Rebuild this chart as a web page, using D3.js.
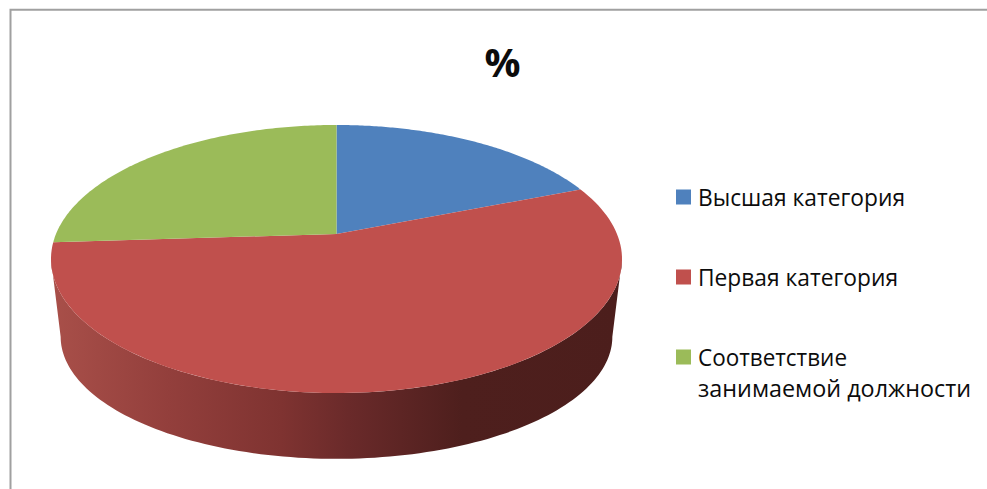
<!DOCTYPE html>
<html>
<head>
<meta charset="utf-8">
<script src="https://cdn.jsdelivr.net/npm/d3@7"></script>
<style>
  html, body { margin: 0; padding: 0; background: #fff; }
  svg { display: block; }
  text { font-family: "Open Sans", "Noto Sans", sans-serif; fill: #0c0c0c; }
</style>
</head>
<body>
<script>
const titleText = "%";
const categories = ["Высшая категория", "Первая категория", "Соответствие занимаемой должности"];
const values = [19, 55, 26];
const colors = ["#4f81bd", "#c0504d", "#9bbb59"];
const legendLines = [["Высшая категория"], ["Первая категория"], ["Соответствие", "занимаемой должности"]];
const legendWidths = [[207], [200], [149, 273]];

const width = 987, height = 489;

const svg = d3.select("body").append("svg")
    .attr("width", width)
    .attr("height", height)
    .attr("viewBox", [0, 0, width, height]);

// side wall gets darker to the right, banded like the original
const wallGrad = svg.append("defs").append("linearGradient")
    .attr("id", "wall")
    .attr("gradientUnits", "userSpaceOnUse")
    .attr("x1", 55).attr("x2", 620).attr("y1", 0).attr("y2", 0);
[[0, "#a84f49"], [0.2, "#933f3c"], [0.4, "#7f3331"], [0.52, "#6a2a2a"], [0.72, "#4e1f1d"], [1, "#4c1e1c"]]
  .forEach(([o, c]) => wallGrad.append("stop").attr("offset", o).attr("stop-color", c));

// chart frame, open at the bottom and right like the crop
svg.append("path")
    .attr("fill", "none")
    .attr("stroke", "#a0a0a0")
    .attr("stroke-width", 2)
    .attr("d", d3.line()([[10.5, height], [10.5, 9.8], [width, 9.8]]));

// perspective disc: unit circle (u right, v towards viewer) to screen
const cx = 336.5, persp = -0.1866;
const project = (disc) => ([u, v]) => {
  const w = 1 + persp * v;
  return [cx + disc.rx * u / w, (disc.a * v + disc.b) / w];
};
const topDisc = project({rx: 280.5, a: 85.7, b: 234});
const baseDisc = project({rx: 271, a: 59.2, b: 314});
const rim = (t) => [Math.sin(t), -Math.cos(t)];

const pie = d3.pie().sort(null)(values);
const line = d3.line();

// sample an arc of the rim between two angles
const arcPoints = (t0, t1, disc) => d3.range(0, 121)
    .map(i => disc(rim(t0 + (t1 - t0) * i / 120)));

// wall runs between the two widest points of the disc
const tangent = Math.PI - Math.acos(-persp);
const wallTop = arcPoints(tangent, 2 * Math.PI - tangent, topDisc);
const wallBase = arcPoints(2 * Math.PI - tangent, tangent, baseDisc);
svg.append("path")
    .attr("fill", "url(#wall)")
    .attr("d", line(wallTop.concat(wallBase)) + "Z");

svg.append("g").selectAll("path")
  .data(pie)
  .join("path")
    .attr("fill", (d, i) => colors[i])
    .attr("d", d => line([topDisc([0, 0])].concat(arcPoints(d.startAngle, d.endAngle, topDisc))) + "Z");

svg.append("text")
    .attr("x", 502.5)
    .attr("y", 76.5)
    .attr("text-anchor", "middle")
    .attr("font-size", 40)
    .attr("font-weight", 700)
    .text(titleText);

// legend
const legendY = d3.scalePoint().domain(categories).range([197, 357]);

const legend = svg.append("g").selectAll("g")
  .data(categories)
  .join("g")
    .attr("transform", d => `translate(676,${legendY(d)})`);

legend.append("rect")
    .attr("y", -7.5)
    .attr("width", 15)
    .attr("height", 15)
    .attr("fill", (d, i) => colors[i]);

legend.append("text")
    .attr("font-size", 23.5)
    .selectAll("text")
    .data((d, i) => legendLines[i].map((s, j) => ({s, w: legendWidths[i][j]})))
    .join("tspan")
      .attr("x", 22)
      .attr("y", (d, i) => 8.5 + i * 31.5)
      .attr("textLength", d => d.w)
      .attr("lengthAdjust", "spacingAndGlyphs")
      .text(d => d.s);
</script>
</body>
</html>
